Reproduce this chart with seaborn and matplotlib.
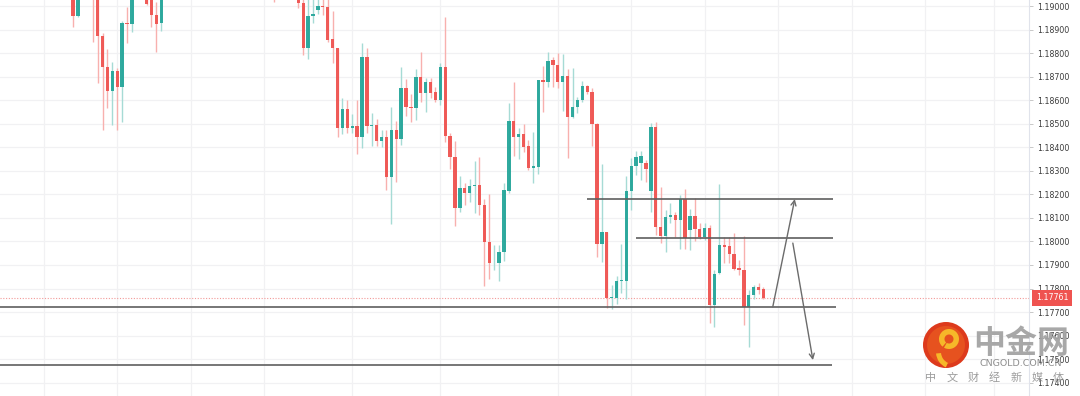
import numpy as np
import pandas as pd
import matplotlib
matplotlib.use("Agg")
import matplotlib.pyplot as plt
import matplotlib.transforms as mtransforms
from matplotlib.patches import Circle, Wedge
import seaborn as sns

# Candle data (EUR/USD; bars above 1.1900 are out of view)
bar_idx = [-46, -45, -42, -41, -40, -39, -38, -37, -36, -35, -34, -31, -30, -29, -28, -5] + list(range(96))

open_ = [1.19051, 1.18958, 1.19059, 1.19038, 1.18873, 1.18742, 1.18639, 1.18724, 1.18655, 1.18927,
         1.18922, 1.19034, 1.19038, 1.18962, 1.18927, 1.19051,
         1.19030, 1.19014, 1.18820, 1.18959, 1.18983, 1.19001, 1.18997, 1.18859, 1.18820, 1.18481,
         1.18563, 1.18483, 1.18490, 1.18442, 1.18782, 1.18490, 1.18493, 1.18428, 1.18445, 1.18272,
         1.18473, 1.18434, 1.18651, 1.18572, 1.18566, 1.18700, 1.18632, 1.18679, 1.18633, 1.18601,
         1.18740, 1.18449, 1.18357, 1.18141, 1.18226, 1.18205, 1.18236, 1.18239, 1.18155, 1.17996,
         1.17907, 1.17907, 1.17956, 1.18216, 1.18513, 1.18442, 1.18455, 1.18405, 1.18313, 1.18317,
         1.18686, 1.18676, 1.18771, 1.18749, 1.18679, 1.18703, 1.18527, 1.18570, 1.18601, 1.18662,
         1.18633, 1.18499, 1.17988, 1.18039, 1.17759, 1.17759, 1.17832, 1.17832, 1.18216, 1.18322,
         1.18332, 1.18332, 1.18216, 1.18487, 1.18063, 1.18024, 1.18103, 1.18112, 1.18091, 1.18179,
         1.18049, 1.18108, 1.18052, 1.18020, 1.18056, 1.17730, 1.17865, 1.17985, 1.17982, 1.17947,
         1.17886, 1.17879, 1.17720, 1.17773, 1.17805, 1.17797]

high = [1.19068, 1.19068, 1.19076, 1.19059, 1.18885, 1.18817, 1.18763, 1.18737, 1.18938, 1.18997,
        1.19068, 1.19051, 1.19059, 1.19018, 1.19068, 1.19068,
        1.19047, 1.19047, 1.19038, 1.19038, 1.19038, 1.19038, 1.19034, 1.18979, 1.18822, 1.18611,
        1.18601, 1.18540, 1.18601, 1.18842, 1.18820, 1.18544, 1.18520, 1.18473, 1.18473, 1.18570,
        1.18512, 1.18740, 1.18690, 1.18625, 1.18732, 1.18803, 1.18693, 1.18693, 1.18655, 1.18759,
        1.18952, 1.18461, 1.18427, 1.18278, 1.18250, 1.18265, 1.18342, 1.18360, 1.18179, 1.18202,
        1.17985, 1.17985, 1.18250, 1.18589, 1.18679, 1.18481, 1.18499, 1.18431, 1.18464, 1.18686,
        1.18746, 1.18806, 1.18785, 1.18799, 1.18796, 1.18732, 1.18738, 1.18612, 1.18683, 1.18664,
        1.18652, 1.18503, 1.18328, 1.18039, 1.17815, 1.17853, 1.17989, 1.18278, 1.18353, 1.18385,
        1.18385, 1.18346, 1.18504, 1.18509, 1.18230, 1.18134, 1.18165, 1.18126, 1.18197, 1.18222,
        1.18138, 1.18183, 1.18080, 1.18077, 1.18070, 1.17879, 1.18244, 1.18018, 1.18020, 1.18035,
        1.17921, 1.18023, 1.17794, 1.17815, 1.17825, 1.17806]

low = [1.18912, 1.18953, 1.18848, 1.18673, 1.18473, 1.18567, 1.18495, 1.18473, 1.18509, 1.18842,
       1.18891, 1.19004, 1.18912, 1.18806, 1.18895, 1.19017,
       1.18990, 1.18792, 1.18774, 1.18927, 1.18966, 1.18962, 1.18848, 1.18757, 1.18445, 1.18455,
       1.18462, 1.18459, 1.18370, 1.18398, 1.18459, 1.18407, 1.18407, 1.18402, 1.18218, 1.18073,
       1.18254, 1.18410, 1.18533, 1.18509, 1.18516, 1.18594, 1.18551, 1.18608, 1.18594, 1.18580,
       1.18421, 1.18306, 1.18067, 1.18126, 1.18155, 1.18169, 1.18120, 1.18112, 1.17812, 1.17839,
       1.17879, 1.17832, 1.17917, 1.18205, 1.18363, 1.18349, 1.18381, 1.18303, 1.18247, 1.18286,
       1.18551, 1.18655, 1.18657, 1.18651, 1.18555, 1.18356, 1.18524, 1.18544, 1.18594, 1.18626,
       1.18407, 1.17935, 1.17914, 1.17716, 1.17712, 1.17734, 1.17780, 1.17757, 1.18134, 1.18282,
       1.18261, 1.18254, 1.18126, 1.18027, 1.17992, 1.17956, 1.18080, 1.18018, 1.17967, 1.17967,
       1.17964, 1.18003, 1.18009, 1.18006, 1.17652, 1.17638, 1.17861, 1.17907, 1.17907, 1.17879,
       1.17858, 1.17645, 1.17553, 1.17754, 1.17777, 1.17754]

close = [1.18958, 1.19051, 1.19038, 1.18873, 1.18742, 1.18639, 1.18724, 1.18656, 1.18929, 1.18922,
         1.19047, 1.19009, 1.18962, 1.18924, 1.19047, 1.19038,
         1.19014, 1.18820, 1.18959, 1.18966, 1.19001, 1.18997, 1.18856, 1.18820, 1.18481, 1.18563,
         1.18483, 1.18490, 1.18442, 1.18782, 1.18490, 1.18493, 1.18428, 1.18445, 1.18272, 1.18473,
         1.18434, 1.18651, 1.18570, 1.18566, 1.18700, 1.18632, 1.18679, 1.18632, 1.18601, 1.18740,
         1.18449, 1.18357, 1.18141, 1.18226, 1.18205, 1.18236, 1.18239, 1.18155, 1.17996, 1.17907,
         1.17910, 1.17956, 1.18219, 1.18513, 1.18442, 1.18455, 1.18402, 1.18313, 1.18322, 1.18686,
         1.18676, 1.18766, 1.18749, 1.18679, 1.18703, 1.18527, 1.18570, 1.18601, 1.18662, 1.18633,
         1.18498, 1.17988, 1.18039, 1.17759, 1.17763, 1.17832, 1.17836, 1.18216, 1.18322, 1.18360,
         1.18363, 1.18306, 1.18487, 1.18063, 1.18024, 1.18105, 1.18112, 1.18091, 1.18179, 1.18013,
         1.18108, 1.18052, 1.18020, 1.18056, 1.17730, 1.17862, 1.17985, 1.17978, 1.17947, 1.17883,
         1.17879, 1.17720, 1.17773, 1.17805, 1.17794, 1.17761]

last_price = 1.17761

# drawn support / resistance levels: (price, start bar, end bar)
level_price = [1.18180, 1.18015, 1.17722, 1.17475]
level_start = [59, 69, -61, -61]
level_end = [109.2, 109.2, 109.8, 109.0]

# projected move arrows: (from bar, from price, to bar, to price)
arrow_up = (96.9, 1.17722, 101.4, 1.18180)
arrow_down = (101.0, 1.17993, 105.1, 1.17496)

price_ticks = [1.174, 1.175, 1.176, 1.177, 1.178, 1.179, 1.180, 1.181, 1.182,
               1.183, 1.184, 1.185, 1.186, 1.187, 1.188, 1.189, 1.190]
tick_labels = ["1.17400", "1.17500", "1.17600", "1.17700", "1.17800", "1.17900",
               "1.18000", "1.18100", "1.18200", "1.18300", "1.18400", "1.18500",
               "1.18600", "1.18700", "1.18800", "1.18900", "1.19000"]
time_grid = [-52, -37, -22, -7, 11, 29, 53, 68, 83, 98, 113, 128, 142]

df = pd.DataFrame({"bar": bar_idx, "open": open_, "high": high, "low": low, "close": close})
df["up"] = df["close"] >= df["open"]

sns.set_style("white")
plt.rcParams["font.family"] = ["DejaVu Sans"]

UP = "#26a69a"
DOWN = "#ef5350"

fig = plt.figure(figsize=(10.8, 3.96), dpi=100)
ax = fig.add_axes([0, 0, 1029.3 / 1080, 1])
ax.set_xlim(-60.94, 149.3)
ax.set_ylim(1.173435, 1.190255)

# grid
ax.set_xticks(time_grid)
ax.set_yticks(price_ticks)
ax.set_yticklabels(tick_labels)
ax.grid(True, color="#f1f1f3", linewidth=0.9)
ax.tick_params(axis="x", length=0, labelbottom=False)
ax.yaxis.tick_right()
ax.tick_params(axis="y", length=3, width=0.7, color="#c8c8c8", pad=2.5,
               labelsize=5.7, labelcolor="#3c3c3c")
for side in ["top", "left", "bottom"]:
    ax.spines[side].set_visible(False)
ax.spines["right"].set_color("#e0e3eb")
ax.spines["right"].set_linewidth(0.8)

# wicks
wick_cols = np.where(df["up"], "#a6dbd5", "#f8b0ae")
ax.vlines(df["bar"], df["low"], df["high"], colors=wick_cols, linewidth=1.0, zorder=2)

# bodies
body_h = np.maximum((df["close"] - df["open"]).abs(), 0.00003)
body_b = np.minimum(df["open"], df["close"])
body_cols = np.where(df["up"], UP, DOWN)
ax.bar(df["bar"], body_h, bottom=body_b, width=0.68, color=body_cols,
       edgecolor="none", alpha=0.95, zorder=3)

# current price line + label
ax.axhline(last_price, color="#f39a98", linestyle=(0, (1, 1.5)), linewidth=0.8, zorder=1)
trans = mtransforms.blended_transform_factory(ax.transAxes, ax.transData)
ax.text(1.0065, last_price, "1.17761", transform=trans, ha="left", va="center",
        fontsize=5.7, color="white", clip_on=False, zorder=6,
        bbox=dict(boxstyle="square,pad=0.45", fc=DOWN, ec="none"))

# horizontal levels
ax.hlines(level_price, level_start, level_end, colors="#5f5f5f", linewidth=1.2, zorder=4)

# arrows
for x0, y0, x1, y1 in [arrow_up, arrow_down]:
    ax.annotate("", xy=(x1, y1), xytext=(x0, y0),
                arrowprops=dict(arrowstyle="->", color="#6b6b6b", lw=1.0,
                                mutation_scale=9, shrinkA=0, shrinkB=0), zorder=4)

# watermark (logo + text)
px = fig.dpi_scale_trans
def fy(y):
    return (396 - y) / 100.0

fig.add_artist(Circle((9.46, fy(345)), 0.23, transform=px, fc="#dd3a1c", ec="none", zorder=10))
fig.add_artist(Circle((9.46, fy(345)), 0.19, transform=px, fc="#e6521f", ec="none", zorder=10))
fig.add_artist(Wedge((9.49, fy(339)), 0.10, -120, 230, width=0.055, transform=px,
                     fc="#f6b829", ec="none", zorder=11))
fig.add_artist(Wedge((9.53, fy(352)), 0.17, 185, 245, width=0.05, transform=px,
                     fc="#f6b829", ec="none", zorder=11))

cjk = ["Noto Sans CJK SC", "DejaVu Sans"]
fig.text(1021 / 1080, 1 - 344 / 396, "中金网", ha="center", va="center", fontsize=23,
         fontweight="bold", color="#a3a3a3", family=cjk, alpha=0.95, zorder=12)
fig.text(1021 / 1080, 1 - 364 / 396, "CNGOLD.COM.CN", ha="center", va="center",
         fontsize=6.8, color="#8e8e8e", zorder=12)
for i, ch in enumerate("中文财经新媒体"):
    fig.text((931 + i * 21.2) / 1080, 1 - 378 / 396, ch, ha="center", va="center",
             fontsize=8, color="#9d9d9d", family=cjk, zorder=12)

fig.savefig("out.png", dpi=100)
plt.close(fig)
